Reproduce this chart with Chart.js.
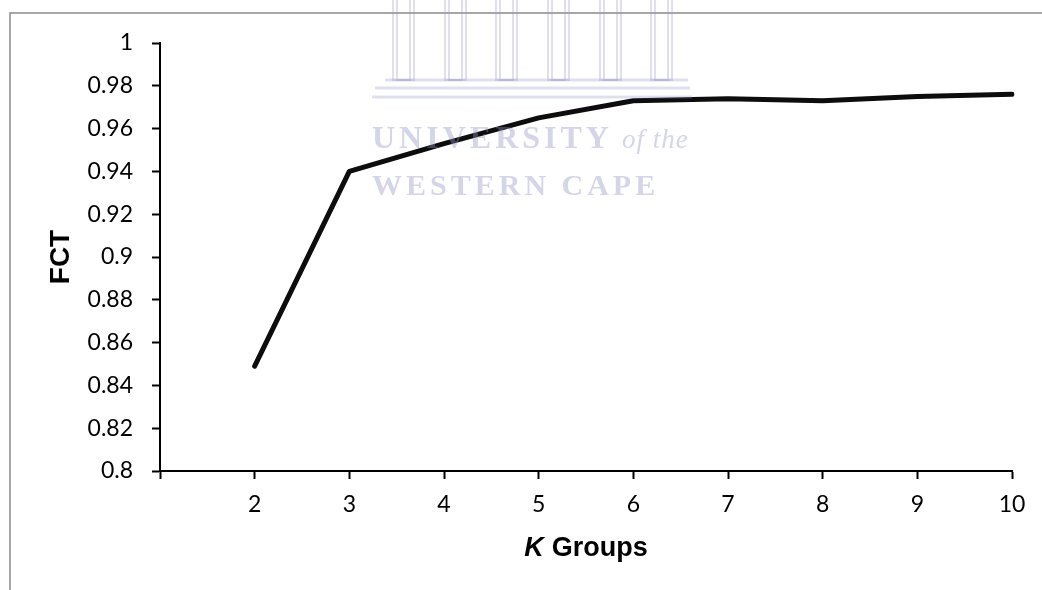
<!DOCTYPE html>
<html>
<head>
<meta charset="utf-8">
<script src="https://cdn.jsdelivr.net/npm/chart.js@4/dist/chart.umd.min.js"></script>
<style>
  html, body { margin: 0; padding: 0; background: #fff; }
  #wrap { width: 1042px; height: 590px; }
</style>
</head>
<body>
<div id="wrap"><canvas id="fctChart" width="1042" height="590"></canvas></div>
<script>
// chart data
const kGroups = ['', '2', '3', '4', '5', '6', '7', '8', '9', '10'];
const fctValues = [null, 0.849, 0.940, 0.953, 0.965, 0.973, 0.974, 0.973, 0.975, 0.976];
const yTicks = { min: 0.8, max: 1, step: 0.02 };
const xTitleParts = ['K', 'Groups'];
const yTitle = 'FCT';
const watermarkLines = ['UNIVERSITY', 'of the', 'WESTERN CAPE'];

// outer frame + faint watermark of the source document
const decorations = {
  id: 'decorations',
  beforeDraw(chart) {
    const ctx = chart.ctx;
    ctx.save();
    ctx.fillStyle = '#fff';
    ctx.fillRect(0, 0, chart.width, chart.height);
    ctx.strokeStyle = '#8a8a8a';
    ctx.lineWidth = 1.5;
    ctx.strokeRect(10, 13, 1200, 800);
    ctx.restore();
  },
  afterDraw(chart) {
    const ctx = chart.ctx;
    ctx.save();
    // building columns
    ctx.strokeStyle = 'rgba(150,150,200,0.3)';
    ctx.lineWidth = 2;
    [393, 445, 496, 548, 600, 651].forEach(x => {
      ctx.strokeRect(x, -4, 21, 84);
      ctx.strokeRect(x + 4, -4, 13, 84);
    });
    ctx.lineWidth = 3;
    [[385, 80, 688], [375, 88, 690], [372, 97, 692]].forEach(([x0, y, x1]) => {
      ctx.beginPath();
      ctx.moveTo(x0, y);
      ctx.lineTo(x1, y);
      ctx.stroke();
    });
    // lettering
    ctx.fillStyle = 'rgba(150,150,200,0.4)';
    ctx.textBaseline = 'alphabetic';
    ctx.textAlign = 'left';
    ctx.font = 'bold 32px "Liberation Serif"';
    ctx.letterSpacing = '4px';
    ctx.fillText(watermarkLines[0], 372, 148);
    ctx.font = 'italic 27px "Liberation Serif"';
    ctx.letterSpacing = '1px';
    ctx.fillText(watermarkLines[1], 622, 148);
    ctx.font = 'bold 30px "Liberation Serif"';
    ctx.letterSpacing = '4px';
    ctx.fillText(watermarkLines[2], 372, 195);
    ctx.restore();

    // x axis title, with italic K
    const area = chart.chartArea;
    ctx.save();
    ctx.fillStyle = '#000';
    ctx.textBaseline = 'alphabetic';
    ctx.textAlign = 'left';
    const fK = 'italic bold 27px "Liberation Sans"';
    const fG = 'bold 27px "Liberation Sans"';
    ctx.font = fK;
    const wK = ctx.measureText(xTitleParts[0]).width;
    ctx.font = fG;
    const wG = ctx.measureText(xTitleParts[1]).width;
    const gap = 8;
    const x0 = (area.left + area.right) / 2 - (wK + gap + wG) / 2;
    ctx.font = fK;
    ctx.fillText(xTitleParts[0], x0, 556);
    ctx.font = fG;
    ctx.fillText(xTitleParts[1], x0 + wK + gap, 556);
    ctx.restore();
  }
};

new Chart(document.getElementById('fctChart'), {
  type: 'line',
  data: {
    labels: kGroups,
    datasets: [{
      label: 'FCT',
      data: fctValues,
      borderColor: '#0d0d0d',
      borderWidth: 5,
      borderCapStyle: 'round',
      borderJoinStyle: 'round',
      pointRadius: 0,
      tension: 0,
      fill: false
    }]
  },
  options: {
    responsive: false,
    animation: false,
    layout: { padding: { left: 0, top: 43, right: 30, bottom: 0 } },
    plugins: {
      legend: { display: false },
      tooltip: { enabled: false }
    },
    scales: {
      x: {
        type: 'category',
        offset: false,
        grid: {
          drawOnChartArea: false,
          tickLength: 8,
          tickWidth: 2,
          tickColor: '#000'
        },
        border: { color: '#000', width: 2 },
        ticks: {
          color: '#000',
          font: { family: 'Lato', size: 23 },
          padding: 12,
          maxRotation: 0,
          autoSkip: false
        },
        afterFit(scale) { scale.height = 119; }
      },
      y: {
        min: yTicks.min,
        max: yTicks.max,
        grid: {
          drawOnChartArea: false,
          tickLength: 8,
          tickWidth: 2,
          tickColor: '#000'
        },
        border: { color: '#000', width: 2 },
        ticks: {
          stepSize: yTicks.step,
          color: '#000',
          font: { family: 'Lato', size: 23 },
          padding: 19,
          callback: v => String(Number(v.toFixed(2)))
        },
        title: {
          display: true,
          text: yTitle,
          color: '#000',
          font: { family: 'Liberation Sans', size: 28, weight: 'bold' },
          padding: { top: 44, bottom: 0 }
        },
        afterFit(scale) { scale.width = 160; }
      }
    }
  },
  plugins: [decorations]
});
</script>
</body>
</html>
